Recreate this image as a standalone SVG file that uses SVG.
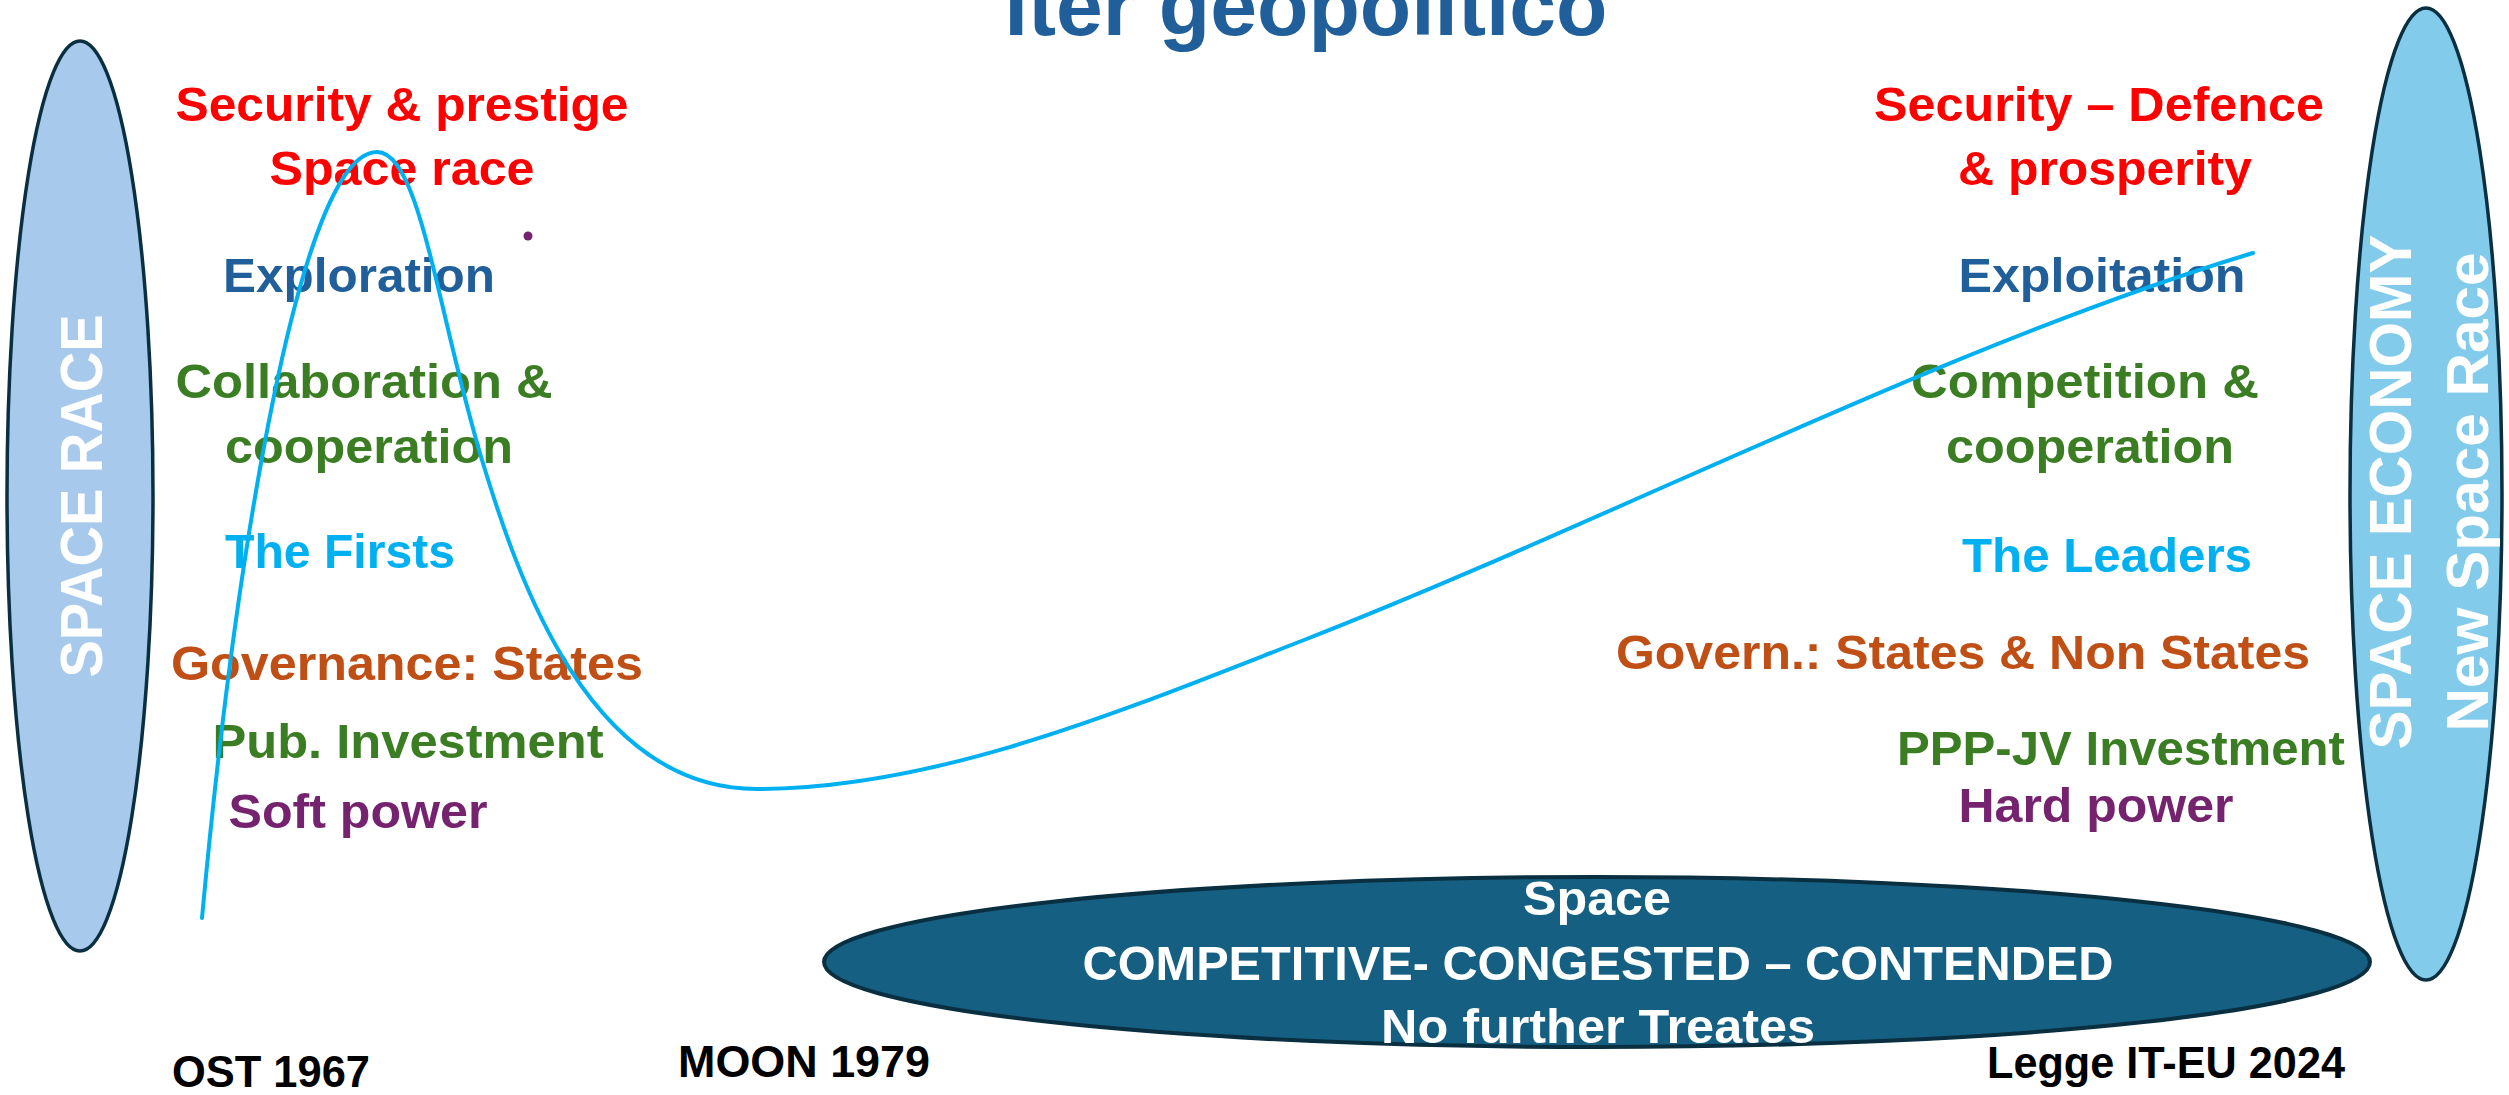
<svg xmlns="http://www.w3.org/2000/svg" width="2509" height="1095" viewBox="0 0 2509 1095">
<style>
text{font-family:"Liberation Sans",Arial,sans-serif;font-weight:bold;text-anchor:middle}
.lbl{font-size:49px}
.yr{font-size:44px;fill:#000}
.red{fill:#FF0000}
.blu{fill:#215F9A}
.grn{fill:#3B7D23}
.cyn{fill:#00B0F0}
.org{fill:#C04F15}
.pur{fill:#76236F}
.wht{fill:#FFFFFF}
.side{font-size:60px;fill:#FFFFFF}
.curve{fill:none;stroke:#00B0F0;stroke-width:4;stroke-linecap:round}
</style>
<rect width="2509" height="1095" fill="#FFFFFF"/>
<g id="title"><text x="1306" y="35" style="font-size:84px;fill:#215F9A" textLength="603" lengthAdjust="spacingAndGlyphs">Iter geopolitico</text></g>
<g id="node-space-race">
<ellipse cx="80" cy="496" rx="73" ry="455" fill="#A6C9EC" stroke="#0A2F41" stroke-width="3.5"/>
<text class="side" transform="translate(102,496) rotate(-90)" textLength="363" lengthAdjust="spacingAndGlyphs">SPACE RACE</text>
</g>
<g id="node-space-economy">
<ellipse cx="2426" cy="494" rx="76" ry="486" fill="#83CBEB" stroke="#0A2F41" stroke-width="3.5"/>
<text class="side" transform="translate(2411,492) rotate(-90)" textLength="515" lengthAdjust="spacingAndGlyphs">SPACE ECONOMY</text>
<text class="side" transform="translate(2488,492) rotate(-90)" textLength="479" lengthAdjust="spacingAndGlyphs">New Space Race</text>
</g>
<g id="node-space-ccc">
<ellipse cx="1597" cy="962" rx="773" ry="85" fill="#156082" stroke="#0A2F41" stroke-width="4"/>
<text class="lbl wht" x="1597" y="915" textLength="148" lengthAdjust="spacingAndGlyphs">Space</text>
<text class="lbl wht" x="1598" y="980" textLength="1031" lengthAdjust="spacingAndGlyphs">COMPETITIVE- CONGESTED – CONTENDED</text>
<text class="lbl wht" x="1598" y="1043" textLength="434" lengthAdjust="spacingAndGlyphs">No further Treates</text>
</g>
<g id="labels-left">
<text class="lbl red" x="402" y="121" textLength="453" lengthAdjust="spacingAndGlyphs">Security &amp; prestige</text>
<text class="lbl red" x="402" y="185" textLength="265" lengthAdjust="spacingAndGlyphs">Space race</text>
<text class="lbl blu" x="359" y="292" textLength="272" lengthAdjust="spacingAndGlyphs">Exploration</text>
<text class="lbl grn" x="364" y="398" textLength="377" lengthAdjust="spacingAndGlyphs">Collaboration &amp;</text>
<text class="lbl grn" x="369" y="463" textLength="288" lengthAdjust="spacingAndGlyphs">cooperation</text>
<text class="lbl cyn" x="340" y="568" textLength="230" lengthAdjust="spacingAndGlyphs">The Firsts</text>
<text class="lbl org" x="407" y="680" textLength="472" lengthAdjust="spacingAndGlyphs">Governance: States</text>
<text class="lbl grn" x="408" y="758" textLength="391" lengthAdjust="spacingAndGlyphs">Pub. Investment</text>
<text class="lbl pur" x="358" y="828" textLength="259" lengthAdjust="spacingAndGlyphs">Soft power</text>
<circle cx="528" cy="236" r="4.5" fill="#76236F"/>
</g>
<g id="labels-right">
<text class="lbl red" x="2099" y="121" textLength="450" lengthAdjust="spacingAndGlyphs">Security – Defence</text>
<text class="lbl red" x="2105" y="185" textLength="294" lengthAdjust="spacingAndGlyphs">&amp; prosperity</text>
<text class="lbl blu" x="2102" y="292" textLength="287" lengthAdjust="spacingAndGlyphs">Exploitation</text>
<text class="lbl grn" x="2085" y="398" textLength="348" lengthAdjust="spacingAndGlyphs">Competition &amp;</text>
<text class="lbl grn" x="2090" y="463" textLength="288" lengthAdjust="spacingAndGlyphs">cooperation</text>
<text class="lbl cyn" x="2107" y="572" textLength="290" lengthAdjust="spacingAndGlyphs">The Leaders</text>
<text class="lbl org" x="1963" y="669" textLength="694" lengthAdjust="spacingAndGlyphs">Govern.: States &amp; Non States</text>
<text class="lbl grn" x="2121" y="765" textLength="448" lengthAdjust="spacingAndGlyphs">PPP-JV Investment</text>
<text class="lbl pur" x="2096" y="822" textLength="275" lengthAdjust="spacingAndGlyphs">Hard power</text>
</g>
<g id="timeline">
<text class="yr" x="271" y="1087" textLength="198" lengthAdjust="spacingAndGlyphs">OST 1967</text>
<text class="yr" x="804" y="1077" textLength="252" lengthAdjust="spacingAndGlyphs">MOON 1979</text>
<text class="yr" x="2166" y="1078" textLength="358" lengthAdjust="spacingAndGlyphs">Legge IT-EU 2024</text>
</g>
<g id="connectors">
<path class="curve" d="M202,918 C235,560 300,152 377,152 C420,152 437,310 482,460 C518,579 589,789 757,789 C937,789 1124,710 1304,640 C1604,523 1953,343 2253,253"/>
</g>
</svg>
